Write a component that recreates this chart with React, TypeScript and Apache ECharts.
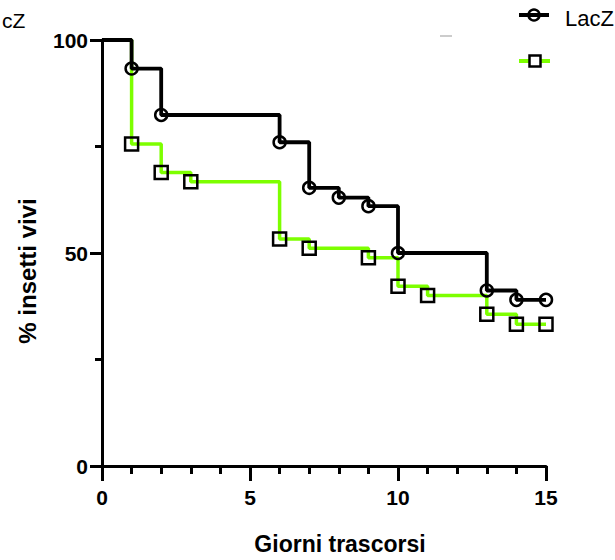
import React, { useEffect, useRef } from "react";
import * as echarts from "echarts";

const lacZDays = [0, 1, 2, 6, 7, 8, 9, 10, 13, 14, 15];
const lacZValues = [100, 93.3, 82.4, 76.0, 65.3, 63.0, 61.0, 50.0, 41.2, 39.0, 39.0];
const greenDays = [0, 1, 2, 3, 6, 7, 9, 10, 11, 13, 14, 15];
const greenValues = [100, 75.6, 68.9, 66.7, 53.3, 51.1, 48.9, 42.2, 40.0, 35.6, 33.3, 33.3];
const seriesNames = ["LacZ", ""];
const xTitle = "Giorni trascorsi";
const yTitle = "% insetti vivi";
const cornerText = "cZ";

const FONT = "'Liberation Sans', Arial, sans-serif";
const GREEN = "#7dff00";

export default function App() {
  const ref = useRef<HTMLDivElement>(null);
  useEffect(() => {
    if (!ref.current) return;
    const chart = echarts.init(ref.current, undefined, { renderer: "svg" });
    const pair = (xs: number[], ys: number[]) => xs.map((x, i) => [x, ys[i]]);
    const sym = (shape: string) => (_v: any, p: any) => (p.dataIndex === 0 ? "none" : shape);
    chart.setOption({
      animation: false,
      backgroundColor: "#fff",
      title: {
        text: cornerText,
        left: -3,
        top: 5,
        textStyle: { fontFamily: FONT, fontSize: 21, fontWeight: "normal", color: "#000" },
      },
      graphic: [
        { type: "line", shape: { x1: 440, y1: 36, x2: 452, y2: 36 }, style: { stroke: "#999", lineWidth: 1 } },
        // legend item 1
        { type: "line", shape: { x1: 519, y1: 15, x2: 549, y2: 15 }, style: { stroke: "#000", lineWidth: 4 } },
        { type: "circle", shape: { cx: 534, cy: 15, r: 5.5 }, style: { fill: "none", stroke: "#000", lineWidth: 2.5 } },
        {
          type: "text",
          x: 565,
          y: 18,
          style: { text: seriesNames[0], fontFamily: FONT, fontSize: 22, fill: "#000", verticalAlign: "middle", align: "left" },
        },
        // legend item 2
        { type: "line", shape: { x1: 519, y1: 61, x2: 550, y2: 61 }, style: { stroke: GREEN, lineWidth: 4 } },
        { type: "rect", shape: { x: 529.5, y: 55.5, width: 11, height: 11 }, style: { fill: "#fff", stroke: "#000", lineWidth: 2.5 } },
      ],
      grid: { left: 102, right: 69, top: 40, bottom: 94 },
      xAxis: {
        type: "value",
        min: 0,
        max: 15,
        interval: 5,
        name: xTitle,
        nameLocation: "middle",
        nameGap: 66,
        nameTextStyle: {
          fontFamily: FONT,
          fontSize: 23,
          fontWeight: "bold",
          color: "#000",
          padding: [0, 0, 0, 32],
        },
        axisLine: { show: true, onZero: false, lineStyle: { color: "#000", width: 3 } },
        axisTick: { show: true, length: 15, lineStyle: { color: "#000", width: 3 } },
        minorTick: { show: true, splitNumber: 5, length: 8, lineStyle: { color: "#000", width: 3 } },
        axisLabel: { margin: 21, fontFamily: FONT, fontSize: 21, fontWeight: "bold", color: "#000" },
        splitLine: { show: false },
        minorSplitLine: { show: false },
      },
      yAxis: {
        type: "value",
        min: 0,
        max: 100,
        interval: 50,
        name: yTitle,
        nameLocation: "middle",
        nameGap: 63,
        nameRotate: 90,
        nameTextStyle: {
          fontFamily: FONT,
          fontSize: 24,
          fontWeight: "bold",
          color: "#000",
          padding: [0, 36, 0, 0],
        },
        axisLine: { show: true, onZero: false, lineStyle: { color: "#000", width: 3 } },
        axisTick: { show: true, length: 12, lineStyle: { color: "#000", width: 3 } },
        minorTick: { show: true, splitNumber: 2, length: 7, lineStyle: { color: "#000", width: 3 } },
        axisLabel: { margin: 14, fontFamily: FONT, fontSize: 21, fontWeight: "bold", color: "#000" },
        splitLine: { show: false },
        minorSplitLine: { show: false },
      },
      series: [
        {
          name: seriesNames[0],
          type: "line",
          step: "end",
          z: 3,
          data: pair(lacZDays, lacZValues),
          symbol: sym("circle"),
          symbolSize: 12,
          lineStyle: { color: "#000", width: 3.8 },
          itemStyle: { color: "transparent", borderColor: "#000", borderWidth: 2.5 },
        },
        {
          name: seriesNames[1],
          type: "line",
          step: "end",
          z: 2,
          data: pair(greenDays, greenValues),
          symbol: sym("rect"),
          symbolSize: 13,
          lineStyle: { color: GREEN, width: 3.5 },
          itemStyle: { color: "transparent", borderColor: "#000", borderWidth: 2.5 },
        },
      ],
    });
    return () => chart.dispose();
  }, []);
  return <div ref={ref} style={{ position: "absolute", left: 0, top: 0, width: 615, height: 560 }} />;
}
